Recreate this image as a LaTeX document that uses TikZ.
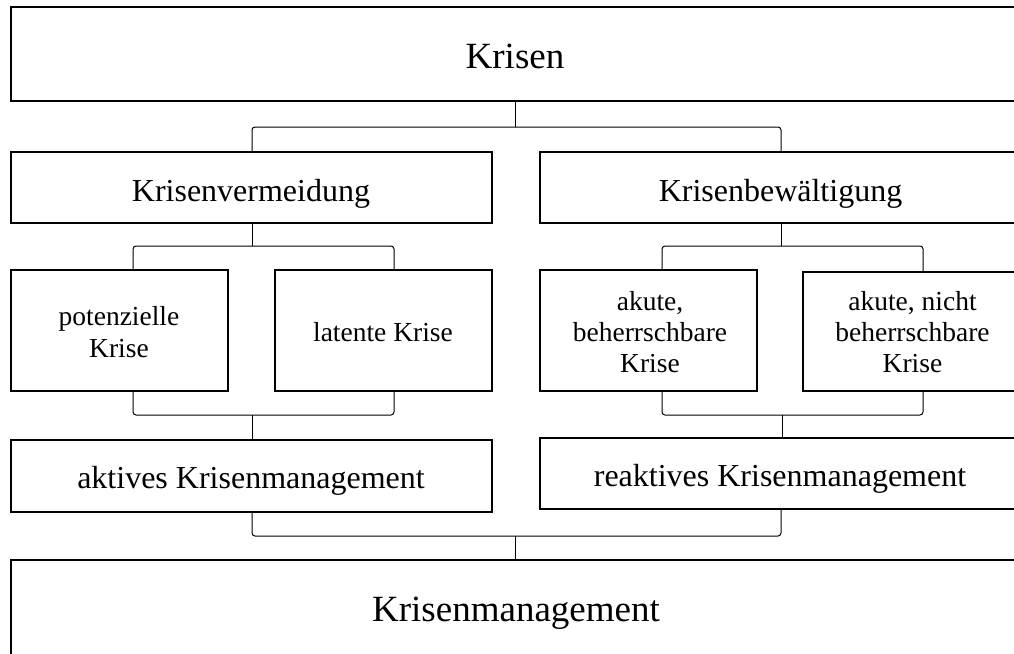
\documentclass[tikz,border=0pt]{standalone}
\usepackage{fontspec}
\setmainfont{Liberation Serif}
\begin{document}
\begin{tikzpicture}[x=1pt,y=-1pt,
  box/.style={draw=black,line width=1.7pt,rectangle,inner sep=0pt,fill=white},
  conn/.style={draw=black,line width=1pt,rounded corners=3pt},
  big/.style={anchor=base,inner sep=0pt,font=\fontsize{37}{44}\selectfont},
  mid/.style={anchor=base,inner sep=0pt,font=\fontsize{32}{38}\selectfont},
  small/.style={anchor=base,inner sep=0pt,font=\fontsize{27.5}{32}\selectfont}]
\useasboundingbox (0,0) rectangle (1014,653);
\clip (0,0) rectangle (1014,653);
\fill[white] (0,0) rectangle (1014,653);

% boxes
\node[box,minimum width=1019pt,minimum height=94pt] (krisen) at (520.5,54) {};
\node[box,minimum width=481pt,minimum height=71pt] (kv) at (251.5,187.5) {};
\node[box,minimum width=490pt,minimum height=71pt] (kb) at (785,187.5) {};
\node[box,minimum width=217pt,minimum height=121pt] (pk) at (119.5,330.5) {};
\node[box,minimum width=217pt,minimum height=121pt] (lk) at (383.5,330.5) {};
\node[box,minimum width=217pt,minimum height=121pt] (ab) at (648.5,330.5) {};
\node[box,minimum width=217pt,minimum height=119pt] (an) at (911.5,331.5) {};
\node[box,minimum width=481pt,minimum height=72pt] (akm) at (251.5,476) {};
\node[box,minimum width=490pt,minimum height=71pt] (rkm) at (785,473.5) {};
\node[box,minimum width=1019pt,minimum height=140pt] (km) at (520.5,630) {};

% texts
\node[big] (tkrisen) at (515,68) {Krisen};
\node[mid] (tkv) at (251,201) {Krisenvermeidung};
\node[mid] (tkb) at (780.5,201) {Krisenbewältigung};
\node[small] (tpk1) at (119,325) {potenzielle};
\node[small] (tpk2) at (119,357) {Krise};
\node[small] (tlk) at (383,341) {latente Krise};
\node[small] (tab1) at (650,310) {akute,};
\node[small] (tab2) at (650,341) {beherrschbare};
\node[small] (tab3) at (650,372) {Krise};
\node[small] (tan1) at (912.5,310) {akute, nicht};
\node[small] (tan2) at (912.5,341) {beherrschbare};
\node[small] (tan3) at (912.5,372) {Krise};
\node[mid] (takm) at (251,488) {aktives Krisenmanagement};
\node[mid] (trkm) at (780,486) {reaktives Krisenmanagement};
\node[big] (tkm) at (516,621) {Krisenmanagement};

% bracket junctions
\coordinate (j1) at (515,127);
\coordinate (j1l) at (252,127);
\coordinate (j1r) at (781,127);
\coordinate (j2) at (252,246);
\coordinate (j2l) at (133,246);
\coordinate (j2r) at (394,246);
\coordinate (j3) at (781,246);
\coordinate (j3l) at (662,246);
\coordinate (j3r) at (923,246);
\coordinate (j4) at (252,415);
\coordinate (j4l) at (133,415);
\coordinate (j4r) at (394,415);
\coordinate (j5) at (782,415);
\coordinate (j5l) at (662,415);
\coordinate (j5r) at (923,415);
\coordinate (j6) at (515,536);
\coordinate (j6l) at (252,536);
\coordinate (j6r) at (781,536);

% connectors
\draw[conn] (krisen.south -| j1) -- (j1);
\draw[conn] (kv.north -| j1l) -- (j1l) -- (j1r) -- (kb.north -| j1r);

\draw[conn] (kv.south -| j2) -- (j2);
\draw[conn] (pk.north -| j2l) -- (j2l) -- (j2r) -- (lk.north -| j2r);

\draw[conn] (kb.south -| j3) -- (j3);
\draw[conn] (ab.north -| j3l) -- (j3l) -- (j3r) -- (an.north -| j3r);

\draw[conn] (pk.south -| j4l) -- (j4l) -- (j4r) -- (lk.south -| j4r);
\draw[conn] (j4) -- (akm.north -| j4);

\draw[conn] (ab.south -| j5l) -- (j5l) -- (j5r) -- (an.south -| j5r);
\draw[conn] (j5) -- (rkm.north -| j5);

\draw[conn] (akm.south -| j6l) -- (j6l) -- (j6r) -- (rkm.south -| j6r);
\draw[conn] (j6) -- (km.north -| j6);
\end{tikzpicture}
\end{document}
